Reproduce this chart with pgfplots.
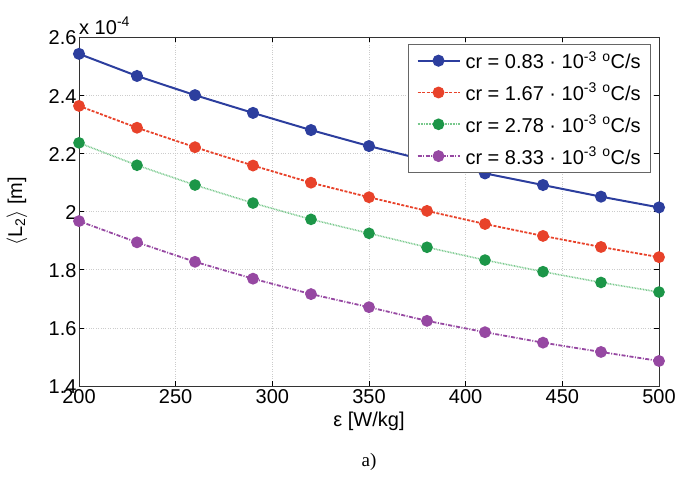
\documentclass[border=0pt]{standalone}
\usepackage{pgfplots}
\pgfplotsset{compat=1.18}
\usepackage{fontspec}
\setmainfont{Liberation Sans}
\newfontfamily\seriffont{Liberation Serif}
\definecolor{cblue}{RGB}{44,62,158}
\definecolor{cred}{RGB}{232,66,42}
\definecolor{cgreen}{RGB}{28,150,72}
\definecolor{cgreenl}{RGB}{120,200,140}
\definecolor{cpurple}{RGB}{150,72,162}
\begin{document}
\begin{tikzpicture}[font=\fontsize{20}{24}\selectfont]
\useasboundingbox (-79pt,-100pt) rectangle (617pt,386pt);
\begin{axis}[
  at={(0pt,0pt)}, anchor=south west,
  scale only axis, width=580pt, height=349pt,
  xmin=200, xmax=500, ymin=1.4, ymax=2.6,
  xtick={200,250,...,500},
  ytick={1.4,1.6,...,2.6},
  yticklabels={1.4,1.6,1.8,2,2.2,2.4,2.6},
  /pgf/number format/assume math mode=true,
  ticklabel style={font=\fontsize{20}{24}\selectfont},
  xticklabel style={yshift=-0.5pt},
  yticklabel style={xshift=1pt, yshift=-1pt},
  major tick length=5pt,
  tick style={black, line width=0.6pt},
  axis line style={line width=0.6pt, black!80},
  grid=major,
  grid style={dotted, gray!40, line width=0.6pt},
  xlabel={ε [W/kg]},
  ylabel={$\langle$L\textsubscript{2}$\rangle$ [m]},
  xlabel style={at={(axis description cs:0.5,-0.1)}, anchor=center},
  ylabel style={at={(axis description cs:-0.107,0.5)}, anchor=center},
  clip=false,
  legend cell align=left,
  legend style={at={(1,1)}, anchor=north east, xshift=-8pt, yshift=-7pt,
    draw=black!60, line width=0.6pt, fill=white, inner xsep=8pt, inner ysep=5pt,
    row sep=9pt, column sep=3pt,
    font=\fontsize{20}{24}\selectfont},
  legend image code/.code={\draw[mark repeat=2,mark phase=2] plot coordinates {(0pt,0pt) (21pt,0pt) (42pt,0pt)};},
  every axis plot/.append style={mark=*, mark size=5pt},
]
\addplot[cblue, line width=2pt, mark options={solid, fill=cblue, draw=cblue}] coordinates {
(200,2.542) (230,2.466) (260,2.400) (290,2.339) (320,2.280) (350,2.225)
(380,2.175) (410,2.131) (440,2.091) (470,2.051) (500,2.014)};
\addlegendentry{cr = 0.83 · 10\textsuperscript{-3} \textsuperscript{o}C/s}
\addplot[cred, line width=1.8pt, dash pattern=on 3pt off 1.5pt, mark options={solid, fill=cred, draw=cred}] coordinates {
(200,2.363) (230,2.288) (260,2.221) (290,2.158) (320,2.099) (350,2.049)
(380,2.002) (410,1.957) (440,1.916) (470,1.878) (500,1.843)};
\addlegendentry{cr = 1.67 · 10\textsuperscript{-3} \textsuperscript{o}C/s}
\addplot[cgreenl, line width=1.6pt, dash pattern=on 0.8pt off 0.8pt, mark options={solid, fill=cgreen, draw=cgreen}] coordinates {
(200,2.236) (230,2.159) (260,2.091) (290,2.029) (320,1.973) (350,1.925)
(380,1.877) (410,1.833) (440,1.793) (470,1.756) (500,1.723)};
\addlegendentry{cr = 2.78 · 10\textsuperscript{-3} \textsuperscript{o}C/s}
\addplot[cpurple, line width=1.8pt, dash pattern=on 4pt off 1.5pt on 1pt off 1.5pt, mark options={solid, fill=cpurple, draw=cpurple}] coordinates {
(200,1.967) (230,1.894) (260,1.827) (290,1.769) (320,1.716) (350,1.671)
(380,1.624) (410,1.585) (440,1.549) (470,1.517) (500,1.486)};
\addlegendentry{cr = 8.33 · 10\textsuperscript{-3} \textsuperscript{o}C/s}
\node[anchor=south west, inner sep=0pt] at (axis description cs:0,1.006) {x 10\textsuperscript{-4}};
\end{axis}
\node[font=\seriffont\fontsize{19}{23}\selectfont] at (290pt,-76pt) {a)};
\end{tikzpicture}
\end{document}
